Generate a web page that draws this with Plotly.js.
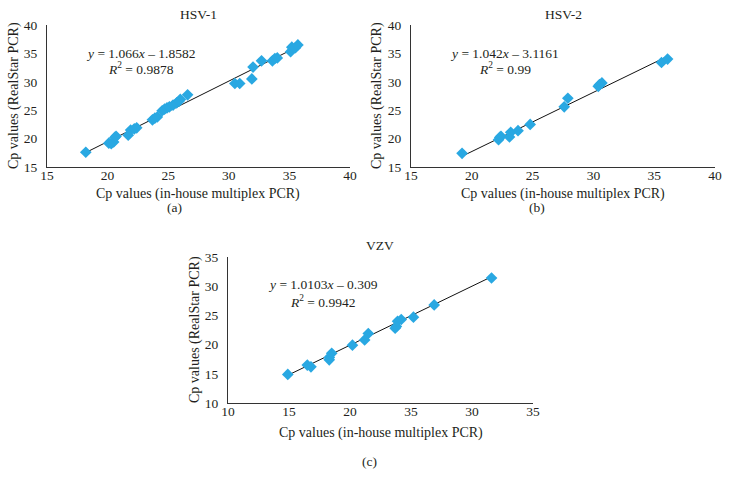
<!DOCTYPE html>
<html>
<head>
<meta charset="utf-8">
<script src="https://cdn.plot.ly/plotly-3.0.1.min.js"></script>
<style>html,body{margin:0;padding:0;background:#fff;}#chart{width:730px;height:485px;}</style>
</head>
<body>
<div id="chart"></div>
<script>
// ---- Data ----
const hsv1X = [18.2, 20.1, 20.3, 20.5, 20.6, 20.7, 21.7, 21.9, 22.2, 22.4, 23.7, 23.9, 24.1, 24.5, 24.7, 24.9, 25.1, 25.4, 25.7, 25.9, 26.0, 26.6, 30.5, 30.9, 31.9, 32.0, 32.7, 33.6, 33.8, 34.0, 35.1, 35.2, 35.5, 35.7];
const hsv1Y = [17.6, 19.2, 19.1, 19.4, 20.2, 20.4, 20.6, 21.5, 21.7, 21.9, 23.3, 23.6, 23.8, 24.9, 25.2, 25.4, 25.6, 25.9, 26.3, 26.6, 26.9, 27.7, 29.7, 29.7, 30.5, 32.6, 33.7, 33.7, 34.1, 34.2, 35.3, 36.1, 36.0, 36.5];
const hsv2X = [19.2, 22.2, 22.3, 22.4, 23.1, 23.2, 23.8, 24.8, 27.6, 27.9, 30.4, 30.5, 30.7, 35.6, 36.1];
const hsv2Y = [17.4, 19.8, 20.2, 20.4, 20.3, 21.1, 21.4, 22.5, 25.6, 27.1, 29.2, 29.5, 29.8, 33.4, 34.0];
const vzvX = [14.9, 16.5, 16.8, 18.3, 18.3, 18.5, 20.2, 21.2, 21.5, 23.7, 23.8, 23.9, 24.2, 25.2, 26.9, 31.6];
const vzvY = [14.9, 16.5, 16.2, 17.4, 17.8, 18.5, 19.9, 20.8, 21.9, 22.8, 23.1, 24.0, 24.3, 24.7, 26.8, 31.4];

const panelTitles = ["HSV-1", "HSV-2", "VZV"];
const panelLabels = ["(a)", "(b)", "(c)"];
const slopes = [1.066, 1.042, 1.0103];
const intercepts = [-1.8582, -3.1161, -0.309];
const eqTexts = ["<i>y</i> = 1.066<i>x</i> \u2013 1.8582", "<i>y</i> = 1.042<i>x</i> \u2013 3.1161", "<i>y</i> = 1.0103<i>x</i> \u2013 0.309"];
const r2Texts = ["<i>R</i><sup>2</sup> = 0.9878", "<i>R</i><sup>2</sup> = 0.99", "<i>R</i><sup>2</sup> = 0.9942"];
const abTicks = [15, 20, 25, 30, 35, 40];
const cTicks = [10, 15, 20, 25, 30, 35];
const cTickText = ["10", "15", "20", "35", "30", "35"]; // as printed in the original
const xAxisTitle = "Cp values (in-house multiplex PCR)";
const yAxisTitle = "Cp values (RealStar PCR)";

// ---- Build ----
const W = 730, H = 485;
const px = x => x / W, py = y => 1 - y / H;
const FONT = "Liberation Serif, Times New Roman, serif";
const TXT = "#231f20";
const BLUE = "#29a8e2";

const sets = [[hsv1X, hsv1Y], [hsv2X, hsv2Y], [vzvX, vzvY]];
const axSuffix = ["", "2", "3"];
const traces = [];
sets.forEach((s, i) => {
  const xa = "x" + axSuffix[i], ya = "y" + axSuffix[i];
  const xmin = Math.min(...s[0]), xmax = Math.max(...s[0]);
  traces.push({x: [xmin, xmax], y: [slopes[i]*xmin + intercepts[i], slopes[i]*xmax + intercepts[i]],
    mode: "lines", line: {color: "#111", width: 1}, xaxis: xa, yaxis: ya, hoverinfo: "skip"});
  traces.push({x: s[0], y: s[1], mode: "markers", xaxis: xa, yaxis: ya,
    marker: {symbol: "diamond", size: 9, color: BLUE}});
});

function axis(domain, range, ticks, text, anchor, isY) {
  const a = {domain: domain, range: range, tickvals: ticks, showgrid: false, zeroline: false,
    showline: true, linecolor: "#333", linewidth: 1, ticks: "", ticklen: 0, anchor: anchor,
    ticklabelstandoff: isY ? 6 : -4,
    tickfont: {family: FONT, size: 13.5, color: TXT}, fixedrange: true};
  if (text) a.ticktext = text;
  return a;
}

const doms = [
  {x: [px(47), px(350)], y: [py(167), py(25)]},
  {x: [px(411), px(715)], y: [py(167), py(25)]},
  {x: [px(228), px(533)], y: [py(403), py(257)]}
];

const layout = {
  width: W, height: H, margin: {l: 0, r: 0, t: 0, b: 0},
  paper_bgcolor: "#fff", plot_bgcolor: "#fff", showlegend: false,
  font: {family: FONT, color: TXT},
  xaxis: axis(doms[0].x, [15, 40], abTicks, null, "y", false),
  yaxis: axis(doms[0].y, [15, 40], abTicks, null, "x", true),
  xaxis2: axis(doms[1].x, [15, 40], abTicks, null, "y2", false),
  yaxis2: axis(doms[1].y, [15, 40], abTicks, null, "x2", true),
  xaxis3: axis(doms[2].x, [10, 35], cTicks, cTickText, "y3", false),
  yaxis3: axis(doms[2].y, [10, 35], cTicks, null, "x3", true),
  annotations: []
};

const ann = (text, x, y, size, extra) => Object.assign({text: text, x: px(x), y: py(y), xref: "paper", yref: "paper",
  showarrow: false, xanchor: "center", yanchor: "middle", font: {family: FONT, size: size, color: TXT}}, extra || {});

const titlePos = [[198, 14], [563, 14], [380, 245]];
const labelPos = [[174, 207], [537, 207], [369, 461]];
const xtPos = [[198, 194], [563, 194], [381, 433]];
const ytPos = [[14, 96], [377, 96], [195, 330]];
const eqPos = [[140, 53], [504, 53], [323, 284]];
const r2Pos = [[141, 69], [505, 69], [322, 301]];
for (let i = 0; i < 3; i++) {
  layout.annotations.push(ann(panelTitles[i], titlePos[i][0], titlePos[i][1], 13.5));
  layout.annotations.push(ann(panelLabels[i], labelPos[i][0], labelPos[i][1], 13.5));
  layout.annotations.push(ann(xAxisTitle, xtPos[i][0], xtPos[i][1], 14));
  layout.annotations.push(ann(yAxisTitle, ytPos[i][0], ytPos[i][1], 14, {textangle: -90}));
  layout.annotations.push(ann(eqTexts[i], eqPos[i][0], eqPos[i][1], 13.5));
  layout.annotations.push(ann(r2Texts[i], r2Pos[i][0], r2Pos[i][1], 13.5));
}

Plotly.newPlot("chart", traces, layout, {displayModeBar: false, staticPlot: true});
</script>
</body>
</html>
